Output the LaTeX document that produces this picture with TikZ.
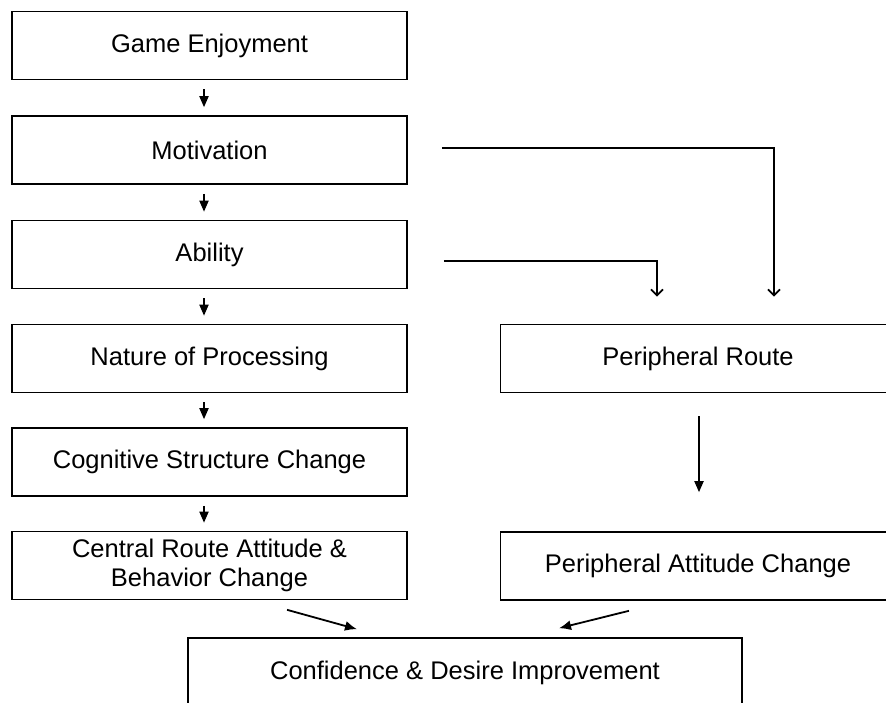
\documentclass[tikz,border=0pt]{standalone}
\usepackage{fontspec}
\setmainfont{Liberation Sans}
\usetikzlibrary{arrows.meta}
\tikzset{
  stage/.style={draw, line width=1.6pt, minimum width=395pt, minimum height=68pt,
                inner sep=0pt, align=center, font=\fontsize{25.5}{30}\selectfont},
  flow/.style={-{Triangle[length=11pt,width=9pt]}, line width=1.8pt},
  slant/.style={-{Latex[length=12pt,width=10pt]}, line width=1.8pt},
  route/.style={-{Straight Barb[length=6pt,width=12pt,line width=1.8pt]}, line width=2pt}
}

\begin{document}
\begin{tikzpicture}[x=1pt, y=-1pt]
            \clip (0,0) rectangle (886,702);
            % Central route
            \node[stage] (game)    at (209.5,  45.5) {Game Enjoyment};
            \node[stage] (motiv)   at (209.5, 150.0) {Motivation};
            \node[stage] (abil)    at (209.5, 254.5) {Ability};
            \node[stage] (proc)    at (209.5, 358.5) {Nature of Processing};
            \node[stage] (cogn)    at (209.5, 462.0) {Cognitive Structure Change};
            \node[stage] (central) at (209.5, 565.5) {\raisebox{-3pt}{\begin{tabular}{@{}c@{}}Central Route Attitude \&\\[-1pt]Behavior Change\end{tabular}}};
            % Peripheral route
            \node[stage] (peri)    at (698.0, 358.5) {Peripheral Route};
            \node[stage] (pattit)  at (698.0, 566.0) {Peripheral Attitude Change};
            % Outcome
            \node[stage, minimum width=554pt, minimum height=70pt] (confid) at (465.0, 673.0)
                 {Confidence \& Desire Improvement};
            % Steps down the left column
            \draw[flow] ([xshift=-5.5pt,yshift=-9pt]game.south)  -- ([xshift=-5.5pt,yshift=8pt]motiv.north);
            \draw[flow] ([xshift=-5.5pt,yshift=-9pt]motiv.south) -- ([xshift=-5.5pt,yshift=8pt]abil.north);
            \draw[flow] ([xshift=-5.5pt,yshift=-9pt]abil.south)  -- ([xshift=-5.5pt,yshift=8pt]proc.north);
            \draw[flow] ([xshift=-5.5pt,yshift=-9pt]proc.south)  -- ([xshift=-5.5pt,yshift=8pt]cogn.north);
            \draw[flow] ([xshift=-5.5pt,yshift=-9pt]cogn.south)  -- ([xshift=-5.5pt,yshift=8pt]central.north);
            % Branches to the peripheral route
            \draw[route] ([xshift=34pt,yshift=2pt]motiv.east)   -| ([xshift=76pt,yshift=27pt]peri.north);
            \draw[route] ([xshift=36pt,yshift=-6.5pt]abil.east) -| ([xshift=-41pt,yshift=27pt]peri.north);
            \draw[flow]  ([xshift=1pt,yshift=-23pt]peri.south)  -- ([xshift=1pt,yshift=39pt]pattit.north);
            % Into the outcome
            \draw[slant] ([xshift=77.5pt,yshift=-9.5pt]central.south) -- ([xshift=-108pt,yshift=8pt]confid.north);
            \draw[slant] ([xshift=-69pt,yshift=-10pt]pattit.south)    -- ([xshift=94pt,yshift=9pt]confid.north);
        \end{tikzpicture}
\end{document}
